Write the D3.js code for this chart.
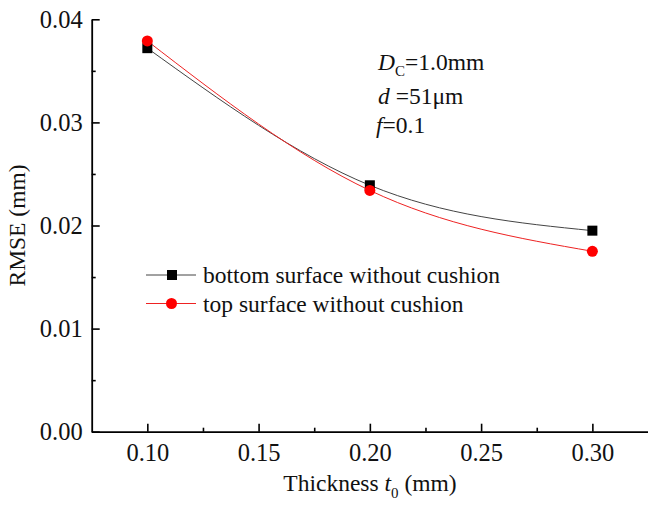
<!DOCTYPE html>
<html><head><meta charset="utf-8">
<script src="https://cdn.jsdelivr.net/npm/d3@7/dist/d3.min.js"></script>
<style>body{margin:0;background:#fff}text{font-family:"Liberation Serif","Times New Roman",serif}</style>
</head><body><svg id="c" width="648" height="509"></svg>
<script>
const thickness = [0.10, 0.20, 0.30];
const bottomRMSE = [0.0372, 0.0239, 0.0195];
const topRMSE = [0.0379, 0.0234, 0.0175];
const xTicks = [0.10, 0.15, 0.20, 0.25, 0.30];
const yTicks = [0.00, 0.01, 0.02, 0.03, 0.04];
const seriesNames = ["bottom surface without cushion", "top surface without cushion"];

const FS = 23.5, TFS = 24.5;
const svg = d3.select("#c");
const x = d3.scaleLinear().domain([0.075, 0.325]).range([91.7, 648]);
const y = d3.scaleLinear().domain([0, 0.04]).range([431.7, 19.3]);

const xMinor = [0.125, 0.175, 0.225, 0.275];
const yMinor = [0.005, 0.015, 0.025, 0.035];
const ax = svg.append("g").attr("transform", `translate(0,${y(0)})`);
ax.call(d3.axisBottom(x).tickValues(xTicks).tickFormat(d3.format(".2f")).tickSizeInner(-8).tickSizeOuter(0).tickPadding(12));
svg.append("g").attr("transform", `translate(0,${y(0)})`)
  .call(d3.axisBottom(x).tickValues(xMinor).tickFormat("").tickSizeInner(-4).tickSizeOuter(0))
  .select(".domain").remove();
const ay = svg.append("g").attr("transform", `translate(${x(0.075)},0)`);
ay.call(d3.axisLeft(y).tickValues(yTicks).tickFormat(d3.format(".2f")).tickSizeInner(-8).tickSizeOuter(0).tickPadding(9));
svg.append("g").attr("transform", `translate(${x(0.075)},0)`)
  .call(d3.axisLeft(y).tickValues(yMinor).tickFormat("").tickSizeInner(-4).tickSizeOuter(0))
  .select(".domain").remove();
svg.selectAll(".domain").attr("stroke", "#000").attr("stroke-width", 1.8);
svg.selectAll(".tick line").attr("stroke", "#000").attr("stroke-width", 1.6);
svg.selectAll(".tick text").attr("font-size", TFS).attr("fill", "#111").attr("font-family", '"Liberation Serif",serif');

// axis titles
svg.append("text").attr("transform", `translate(25,${y(0.02)}) rotate(-90)`).attr("text-anchor", "middle")
  .attr("font-size", FS).attr("fill", "#111").text("RMSE (mm)");
const xt = svg.append("text").attr("x", 370).attr("y", 491).attr("text-anchor", "middle").attr("font-size", FS).attr("fill", "#111");
xt.append("tspan").text("Thickness ");
xt.append("tspan").attr("font-style", "italic").text("t");
xt.append("tspan").attr("font-size", 15).attr("dy", 7).text("0");
xt.append("tspan").attr("dy", -7).text(" (mm)");

// lines
const pts = arr => thickness.map((t, i) => [t, arr[i]]);
const line = d3.line().x(d => x(d[0])).y(d => y(d[1])).curve(d3.curveNatural);
svg.append("path").attr("d", line(pts(bottomRMSE))).attr("fill", "none").attr("stroke", "#444").attr("stroke-width", 1);
svg.append("path").attr("d", line(pts(topRMSE))).attr("fill", "none").attr("stroke", "#ee2222").attr("stroke-width", 1);
svg.selectAll(".sq").data(pts(bottomRMSE)).enter().append("rect")
  .attr("x", d => x(d[0]) - 5).attr("y", d => y(d[1]) - 5).attr("width", 10).attr("height", 10).attr("fill", "#000");
svg.selectAll(".ci").data(pts(topRMSE)).enter().append("circle")
  .attr("cx", d => x(d[0])).attr("cy", d => y(d[1])).attr("r", 5.5).attr("fill", "#ff0000");

// legend
const lg = svg.append("g");
[0,1].forEach(i => {
  const yy = 275 + i * 28.5;
  lg.append("line").attr("x1", 146).attr("x2", 196).attr("y1", yy).attr("y2", yy)
    .attr("stroke", i ? "#ee2222" : "#444").attr("stroke-width", 1);
  if (i === 0) lg.append("rect").attr("x", 167).attr("y", yy - 5).attr("width", 10).attr("height", 10).attr("fill", "#000");
  else lg.append("circle").attr("cx", 171.5).attr("cy", yy).attr("r", 5.5).attr("fill", "#ff0000");
  lg.append("text").attr("x", 203).attr("y", yy + 8).attr("font-size", FS).attr("fill", "#111").text(seriesNames[i]);
});

// annotation
const a1 = svg.append("text").attr("x", 378).attr("y", 70).attr("font-size", FS).attr("fill", "#111");
a1.append("tspan").attr("font-style", "italic").text("D");
a1.append("tspan").attr("font-size", 15).attr("dy", 6).text("C");
a1.append("tspan").attr("dy", -6).text("=1.0mm");
const a2 = svg.append("text").attr("x", 378).attr("y", 104).attr("font-size", FS).attr("fill", "#111");
a2.append("tspan").attr("font-style", "italic").text("d");
a2.append("tspan").text(" =51μm");
const a3 = svg.append("text").attr("x", 376).attr("y", 133).attr("font-size", FS).attr("fill", "#111");
a3.append("tspan").attr("font-style", "italic").text("f");
a3.append("tspan").text("=0.1");
</script></body></html>
